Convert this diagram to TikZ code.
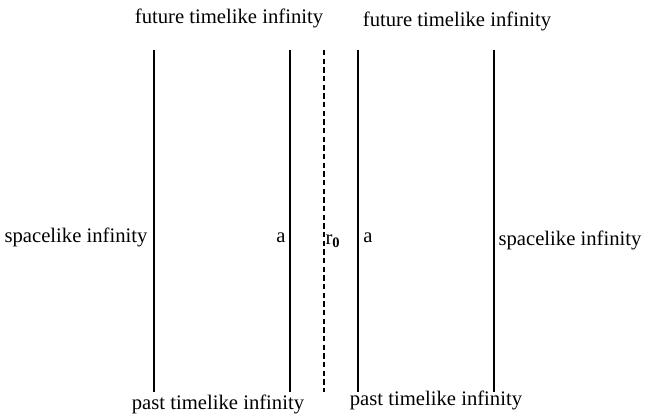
\documentclass[tikz,border=0pt]{standalone}
\usepackage{fontspec}
\setmainfont{Liberation Serif}
\begin{document}
\begin{tikzpicture}[x=0.75pt,y=-0.75pt,
  wl/.style={line width=1.4pt},
  lbl/.style={font=\fontsize{15.5}{18}\selectfont, inner sep=0pt}]
\useasboundingbox (0,0) rectangle (646,420);
\coordinate (l1t) at (154,50); \coordinate (l1b) at (154,392);
\coordinate (l2t) at (290,50); \coordinate (l2b) at (290,392);
\coordinate (l3t) at (324,50); \coordinate (l3b) at (324,392);
\coordinate (l4t) at (358,50); \coordinate (l4b) at (358,392);
\coordinate (l5t) at (494,50); \coordinate (l5b) at (494,392);
\draw[wl] (l1t) -- (l1b);
\draw[wl] (l2t) -- (l2b);
\draw[wl, dashed, dash pattern=on 4pt off 2.5pt] (l3t) -- (l3b);
\draw[wl] (l4t) -- (l4b);
\draw[wl] (l5t) -- (l5b);
\node[lbl] (ft1) at (229,18) {future timelike infinity};
\node[lbl] (ft2) at (457,21) {future timelike infinity};
\node[lbl] (pt1) at (218,404) {past timelike infinity};
\node[lbl] (pt2) at (436,400) {past timelike infinity};
\node[lbl] (sl1) at (76,237) {spacelike infinity};
\node[lbl] (sl2) at (570,240) {spacelike infinity};
\node[lbl] (a1) at (281,238) {a};
\node[lbl] (r0) at (333,241) {r$_{\mathbf{0}}$};
\node[lbl] (a2) at (368,238) {a};
\end{tikzpicture}
\end{document}
